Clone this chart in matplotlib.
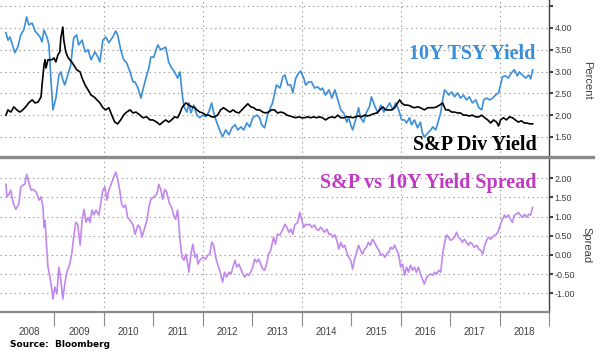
import matplotlib.pyplot as plt
from matplotlib.lines import Line2D

# 10Y treasury yield (decimal year, percent)
tsy_t = [2008.02, 2008.06, 2008.10, 2008.14, 2008.20, 2008.26, 2008.32, 2008.38, 2008.44, 2008.48,
         2008.55, 2008.61, 2008.71, 2008.75, 2008.79, 2008.85, 2008.89, 2008.93, 2008.97, 2009.03,
         2009.09, 2009.13, 2009.17, 2009.21, 2009.27, 2009.33, 2009.39, 2009.45, 2009.49, 2009.56,
         2009.62, 2009.68, 2009.74, 2009.82, 2009.88, 2009.92, 2009.98, 2010.04, 2010.10, 2010.18,
         2010.24, 2010.28, 2010.34, 2010.40, 2010.46, 2010.53, 2010.59, 2010.63, 2010.69, 2010.75,
         2010.79, 2010.85, 2010.91, 2010.95, 2011.01, 2011.09, 2011.15, 2011.25, 2011.31, 2011.37,
         2011.43, 2011.49, 2011.54, 2011.58, 2011.62, 2011.68, 2011.72, 2011.76, 2011.82, 2011.88,
         2011.94, 2012.00, 2012.06, 2012.12, 2012.18, 2012.22, 2012.28, 2012.34, 2012.40, 2012.46,
         2012.53, 2012.59, 2012.65, 2012.71, 2012.77, 2012.83, 2012.89, 2012.95, 2013.01, 2013.09,
         2013.15, 2013.19, 2013.25, 2013.31, 2013.35, 2013.41, 2013.45, 2013.49, 2013.56, 2013.62,
         2013.66, 2013.72, 2013.78, 2013.82, 2013.88, 2013.94, 2013.98, 2014.04, 2014.08, 2014.14,
         2014.20, 2014.26, 2014.32, 2014.38, 2014.42, 2014.48, 2014.55, 2014.61, 2014.67, 2014.73,
         2014.79, 2014.85, 2014.91, 2014.95, 2014.99, 2015.03, 2015.09, 2015.15, 2015.19, 2015.25,
         2015.31, 2015.37, 2015.41, 2015.47, 2015.54, 2015.60, 2015.66, 2015.72, 2015.78, 2015.84,
         2015.90, 2015.96, 2016.02, 2016.08, 2016.12, 2016.18, 2016.22, 2016.28, 2016.34, 2016.40,
         2016.44, 2016.48, 2016.55, 2016.61, 2016.65, 2016.71, 2016.77, 2016.81, 2016.85, 2016.89,
         2016.93, 2016.97, 2017.03, 2017.09, 2017.15, 2017.21, 2017.27, 2017.33, 2017.39, 2017.45,
         2017.52, 2017.58, 2017.64, 2017.68, 2017.74, 2017.80, 2017.86, 2017.92, 2017.98, 2018.02,
         2018.06, 2018.12, 2018.18, 2018.24, 2018.30, 2018.36, 2018.40, 2018.46, 2018.53, 2018.59,
         2018.63, 2018.67]
tsy = [3.89, 3.72, 3.79, 3.66, 3.43, 3.56, 3.84, 3.95, 4.25, 4.07,
       4.11, 3.93, 3.79, 3.68, 3.95, 3.79, 3.61, 2.81, 2.12, 2.39,
       2.92, 2.99, 2.81, 2.69, 2.92, 3.15, 3.77, 3.84, 3.61, 3.72,
       3.45, 3.50, 3.27, 3.45, 3.33, 3.22, 3.72, 3.79, 3.66, 3.79,
       3.93, 3.84, 3.50, 3.27, 3.20, 2.99, 2.76, 2.76, 2.62, 2.39,
       2.58, 2.85, 3.08, 3.33, 3.33, 3.61, 3.50, 3.56, 3.22, 3.08,
       2.99, 2.85, 2.99, 2.51, 2.19, 2.07, 2.28, 2.05, 2.23, 2.00,
       1.94, 2.00, 1.96, 2.07, 2.28, 2.05, 1.84, 1.66, 1.50, 1.66,
       1.55, 1.71, 1.78, 1.66, 1.73, 1.66, 1.82, 1.73, 1.94, 2.00,
       1.94, 1.78, 1.71, 2.00, 2.12, 2.28, 2.48, 2.69, 2.62, 2.88,
       2.92, 2.69, 2.69, 2.51, 2.85, 2.97, 3.01, 2.85, 2.69, 2.76,
       2.76, 2.62, 2.65, 2.58, 2.62, 2.46, 2.58, 2.39, 2.58, 2.35,
       2.12, 2.05, 1.84, 1.94, 1.78, 1.66, 1.89, 2.17, 1.94, 1.84,
       2.07, 2.19, 2.42, 2.23, 2.05, 2.23, 2.07, 2.17, 2.28, 2.12,
       2.28, 2.12, 1.89, 1.89, 1.82, 1.94, 1.78, 1.89, 1.71, 1.84,
       1.59, 1.50, 1.59, 1.66, 1.73, 1.66, 1.89, 2.05, 2.35, 2.58,
       2.53, 2.46, 2.53, 2.42, 2.51, 2.39, 2.46, 2.35, 2.42, 2.28,
       2.35, 2.17, 2.12, 2.35, 2.39, 2.35, 2.39, 2.46, 2.51, 2.69,
       2.88, 2.90, 2.85, 2.97, 3.04, 2.90, 2.99, 2.92, 2.85, 2.92,
       2.83, 3.04]

# S&P 500 dividend yield
div_t = [2008.02, 2008.06, 2008.12, 2008.18, 2008.24, 2008.30, 2008.36, 2008.42, 2008.48, 2008.55,
         2008.61, 2008.67, 2008.73, 2008.75, 2008.79, 2008.81, 2008.83, 2008.87, 2008.91, 2008.95,
         2008.99, 2009.03, 2009.07, 2009.11, 2009.13, 2009.17, 2009.19, 2009.23, 2009.27, 2009.31,
         2009.35, 2009.39, 2009.45, 2009.52, 2009.56, 2009.62, 2009.68, 2009.74, 2009.80, 2009.86,
         2009.92, 2009.98, 2010.04, 2010.10, 2010.16, 2010.22, 2010.28, 2010.34, 2010.40, 2010.46,
         2010.53, 2010.59, 2010.65, 2010.73, 2010.79, 2010.87, 2010.93, 2010.99, 2011.07, 2011.13,
         2011.19, 2011.25, 2011.31, 2011.37, 2011.43, 2011.49, 2011.54, 2011.58, 2011.62, 2011.66,
         2011.72, 2011.78, 2011.84, 2011.88, 2011.94, 2012.00, 2012.06, 2012.12, 2012.18, 2012.24,
         2012.30, 2012.36, 2012.42, 2012.48, 2012.55, 2012.61, 2012.67, 2012.73, 2012.79, 2012.85,
         2012.91, 2012.97, 2013.03, 2013.09, 2013.15, 2013.21, 2013.27, 2013.33, 2013.39, 2013.45,
         2013.51, 2013.58, 2013.64, 2013.70, 2013.76, 2013.82, 2013.88, 2013.94, 2014.00, 2014.06,
         2014.12, 2014.18, 2014.24, 2014.30, 2014.36, 2014.42, 2014.48, 2014.55, 2014.61, 2014.67,
         2014.73, 2014.79, 2014.85, 2014.91, 2014.97, 2015.03, 2015.09, 2015.15, 2015.21, 2015.27,
         2015.33, 2015.39, 2015.45, 2015.52, 2015.58, 2015.64, 2015.70, 2015.76, 2015.82, 2015.88,
         2015.94, 2015.98, 2016.02, 2016.08, 2016.14, 2016.20, 2016.22, 2016.28, 2016.34, 2016.40,
         2016.48, 2016.55, 2016.61, 2016.67, 2016.73, 2016.79, 2016.85, 2016.91, 2016.97, 2017.03,
         2017.09, 2017.15, 2017.21, 2017.27, 2017.33, 2017.39, 2017.45, 2017.52, 2017.58, 2017.64,
         2017.70, 2017.76, 2017.82, 2017.88, 2017.94, 2017.98, 2018.02, 2018.08, 2018.14, 2018.20,
         2018.26, 2018.32, 2018.38, 2018.44, 2018.50, 2018.55, 2018.61, 2018.67]
div = [2.00, 2.12, 2.07, 2.19, 2.12, 2.07, 2.12, 2.19, 2.28, 2.35,
       2.28, 2.30, 2.42, 2.69, 3.15, 3.27, 3.08, 3.27, 3.27, 3.27,
       3.31, 3.22, 3.38, 3.45, 3.77, 4.02, 3.72, 3.45, 3.33, 3.27,
       3.22, 3.15, 3.04, 2.99, 2.85, 2.69, 2.58, 2.46, 2.42, 2.35,
       2.28, 2.17, 2.12, 2.17, 2.00, 1.84, 1.80, 1.89, 2.00, 2.07,
       2.12, 2.05, 2.07, 2.00, 1.94, 1.96, 1.89, 1.89, 1.84, 1.78,
       1.84, 1.89, 1.84, 1.89, 1.96, 1.94, 2.05, 2.17, 2.23, 2.28,
       2.23, 2.19, 2.17, 2.12, 2.07, 2.05, 2.00, 2.00, 1.96, 1.96,
       2.00, 2.12, 2.17, 2.12, 2.07, 2.12, 2.07, 2.05, 2.12, 2.19,
       2.26, 2.19, 2.17, 2.12, 2.12, 2.07, 2.05, 2.07, 2.12, 2.12,
       2.05, 2.07, 2.05, 2.00, 1.98, 1.96, 1.94, 1.96, 1.94, 1.94,
       1.96, 1.94, 1.96, 1.94, 1.96, 1.94, 1.89, 1.94, 1.96, 1.94,
       2.00, 1.94, 1.94, 1.96, 1.96, 1.94, 1.96, 1.98, 1.96, 2.00,
       1.98, 2.00, 2.03, 2.05, 2.12, 2.19, 2.12, 2.12, 2.12, 2.17,
       2.28, 2.35, 2.28, 2.23, 2.23, 2.21, 2.19, 2.17, 2.19, 2.17,
       2.12, 2.17, 2.17, 2.17, 2.19, 2.23, 2.28, 2.12, 2.12, 2.07,
       2.07, 2.05, 2.05, 2.00, 2.00, 1.98, 2.00, 1.96, 1.96, 2.00,
       1.94, 1.89, 1.82, 1.89, 1.84, 1.75, 1.89, 1.94, 1.89, 1.96,
       1.94, 1.89, 1.84, 1.87, 1.82, 1.82, 1.80, 1.80]

# S&P dividend yield minus 10Y yield
spr_t = [2008.02, 2008.04, 2008.08, 2008.12, 2008.14, 2008.18, 2008.22, 2008.28, 2008.32, 2008.36,
         2008.40, 2008.44, 2008.48, 2008.53, 2008.57, 2008.63, 2008.69, 2008.73, 2008.77, 2008.79,
         2008.81, 2008.83, 2008.87, 2008.91, 2008.95, 2008.97, 2009.01, 2009.05, 2009.09, 2009.13,
         2009.17, 2009.21, 2009.25, 2009.31, 2009.35, 2009.39, 2009.43, 2009.47, 2009.52, 2009.56,
         2009.60, 2009.64, 2009.68, 2009.72, 2009.76, 2009.80, 2009.84, 2009.90, 2009.94, 2009.98,
         2010.02, 2010.06, 2010.10, 2010.14, 2010.20, 2010.24, 2010.28, 2010.32, 2010.36, 2010.40,
         2010.44, 2010.48, 2010.53, 2010.59, 2010.63, 2010.69, 2010.73, 2010.77, 2010.83, 2010.87,
         2010.91, 2010.95, 2011.01, 2011.07, 2011.11, 2011.15, 2011.19, 2011.23, 2011.27, 2011.33,
         2011.37, 2011.41, 2011.45, 2011.49, 2011.51, 2011.54, 2011.58, 2011.62, 2011.66, 2011.70,
         2011.72, 2011.76, 2011.80, 2011.84, 2011.88, 2011.90, 2011.94, 2012.00, 2012.06, 2012.10,
         2012.14, 2012.18, 2012.22, 2012.26, 2012.30, 2012.34, 2012.40, 2012.44, 2012.48, 2012.53,
         2012.57, 2012.61, 2012.65, 2012.69, 2012.73, 2012.77, 2012.81, 2012.85, 2012.89, 2012.93,
         2012.97, 2013.01, 2013.05, 2013.09, 2013.13, 2013.17, 2013.21, 2013.25, 2013.29, 2013.33,
         2013.37, 2013.43, 2013.47, 2013.51, 2013.56, 2013.62, 2013.66, 2013.70, 2013.74, 2013.78,
         2013.82, 2013.86, 2013.92, 2013.96, 2014.00, 2014.04, 2014.08, 2014.12, 2014.16, 2014.20,
         2014.26, 2014.30, 2014.34, 2014.38, 2014.42, 2014.46, 2014.51, 2014.55, 2014.59, 2014.63,
         2014.67, 2014.71, 2014.75, 2014.79, 2014.83, 2014.87, 2014.91, 2014.95, 2014.99, 2015.03,
         2015.07, 2015.11, 2015.15, 2015.19, 2015.23, 2015.27, 2015.31, 2015.35, 2015.39, 2015.43,
         2015.47, 2015.52, 2015.56, 2015.60, 2015.64, 2015.68, 2015.72, 2015.76, 2015.80, 2015.84,
         2015.88, 2015.92, 2015.96, 2016.00, 2016.04, 2016.08, 2016.12, 2016.16, 2016.20, 2016.24,
         2016.28, 2016.32, 2016.36, 2016.40, 2016.44, 2016.48, 2016.53, 2016.57, 2016.61, 2016.65,
         2016.69, 2016.73, 2016.77, 2016.81, 2016.85, 2016.89, 2016.93, 2016.97, 2017.01, 2017.05,
         2017.09, 2017.13, 2017.17, 2017.21, 2017.25, 2017.29, 2017.33, 2017.37, 2017.41, 2017.45,
         2017.49, 2017.54, 2017.58, 2017.62, 2017.66, 2017.70, 2017.74, 2017.78, 2017.82, 2017.86,
         2017.90, 2017.94, 2017.98, 2018.02, 2018.06, 2018.10, 2018.14, 2018.18, 2018.22, 2018.26,
         2018.30, 2018.34, 2018.38, 2018.42, 2018.46, 2018.51, 2018.55, 2018.59, 2018.63, 2018.67]
spr = [1.84, 1.51, 1.58, 1.69, 1.51, 1.30, 1.19, 1.32, 1.77, 1.82,
       1.84, 2.10, 1.90, 1.69, 1.71, 1.64, 1.43, 1.51, 1.24, 0.72,
       0.90, 0.46, -0.32, -0.58, -0.92, -1.15, -0.84, -1.02, -0.32, -0.66,
       -1.15, -0.76, -0.45, -0.24, 0.02, 0.46, 0.85, 0.80, 0.25, 0.90,
       1.19, 0.85, 0.98, 0.85, 1.17, 1.04, 1.17, 1.04, 1.38, 1.69,
       1.77, 1.43, 1.69, 1.82, 2.03, 2.16, 1.97, 1.69, 1.32, 1.24,
       1.30, 0.98, 0.90, 0.78, 0.54, 0.78, 0.72, 0.46, 0.72, 0.90,
       1.24, 1.45, 1.51, 1.58, 1.84, 1.71, 1.45, 1.71, 1.64, 1.32,
       1.24, 1.04, 0.93, 1.17, 0.90, 0.38, -0.06, -0.14, 0.02, -0.27,
       -0.45, 0.02, 0.28, -0.06, 0.02, -0.24, -0.14, -0.06, -0.11, -0.01,
       0.02, 0.33, 0.25, -0.06, -0.24, -0.40, -0.71, -0.45, -0.58, -0.45,
       -0.50, -0.32, -0.14, -0.32, -0.24, -0.37, -0.50, -0.58, -0.50, -0.53,
       -0.45, -0.32, -0.11, -0.19, -0.11, -0.24, -0.37, -0.40, -0.24, 0.02,
       0.10, 0.46, 0.28, 0.54, 0.52, 0.67, 0.80, 0.72, 0.59, 0.67,
       0.54, 0.78, 0.85, 1.11, 0.93, 0.72, 0.80, 0.78, 0.80, 0.72,
       0.78, 0.67, 0.64, 0.72, 0.67, 0.59, 0.67, 0.54, 0.54, 0.46,
       0.52, 0.38, 0.15, 0.33, 0.20, 0.25, 0.07, -0.06, -0.14, -0.37,
       -0.11, 0.07, 0.25, 0.12, 0.02, 0.15, 0.20, 0.33, 0.25, 0.41,
       0.33, 0.20, 0.12, -0.01, 0.02, -0.06, 0.02, 0.07, 0.20, 0.15,
       0.25, 0.12, 0.02, -0.32, -0.24, -0.53, -0.32, -0.45, -0.27, -0.40,
       -0.32, -0.45, -0.32, -0.50, -0.63, -0.76, -0.58, -0.53, -0.50, -0.53,
       -0.45, -0.50, -0.40, -0.45, 0.02, 0.33, 0.52, 0.46, 0.38, 0.41,
       0.46, 0.59, 0.46, 0.41, 0.33, 0.41, 0.33, 0.25, 0.33, 0.28,
       0.20, 0.25, 0.15, 0.12, 0.02, 0.25, 0.38, 0.46, 0.41, 0.46,
       0.52, 0.54, 0.64, 0.80, 0.93, 1.04, 0.98, 1.04, 0.93, 0.85,
       1.04, 1.06, 1.11, 1.04, 0.98, 1.06, 0.98, 1.06, 1.04, 1.24]

years = list(range(2008, 2019))
grid_years = [2010, 2012, 2014, 2016, 2018]
top_ticks = [1.5, 2.0, 2.5, 3.0, 3.5, 4.0, 4.5]
bot_ticks = [-1.0, -0.5, 0.0, 0.5, 1.0, 1.5, 2.0]

BLUE = '#3b8ed8'
PURPLE = '#c287ee'
MAGENTA = '#c13ac2'
AXC = '#404040'
GRIDC = '#9a9a9a'

plt.rcParams['font.family'] = ['Liberation Sans', 'DejaVu Sans']

fig = plt.figure(figsize=(6, 3.52), dpi=100)
ax1 = fig.add_axes([0, 0.554, 0.915, 0.446])
ax2 = fig.add_axes([0, 0.1136, 0.915, 0.440])

ax1.plot(tsy_t, tsy, color=BLUE, lw=1.2)
ax1.plot(div_t, div, color='black', lw=1.2)
ax2.plot(spr_t, spr, color=PURPLE, lw=1.2)

for ax in (ax1, ax2):
    ax.set_xlim(2007.9, 2019.0)
    for s in ('left', 'top', 'bottom'):
        ax.spines[s].set_visible(False)
    ax.spines['right'].set_color(AXC)
    ax.spines['right'].set_linewidth(1)
    ax.yaxis.tick_right()
    ax.tick_params(axis='y', direction='out', length=3, width=1.5, color=AXC,
                   labelsize=6.5, labelcolor=AXC, pad=1)
    ax.grid(True, axis='y', ls=(0, (1.2, 3)), color=GRIDC, lw=0.8)
    for gy in grid_years:
        ax.axvline(gy, ls=(0, (1.2, 3)), color=GRIDC, lw=0.8, zorder=0)
    ax.set_axisbelow(True)

ax1.set_ylim(1.04, 4.64)
ax1.set_yticks(top_ticks)
ax1.set_yticklabels([f'{v:.2f}' if v < 4.4 else '' for v in top_ticks])
ax1.set_xticks([])

ax2.set_ylim(-1.49, 2.55)
ax2.set_yticks(bot_ticks)
ax2.set_yticklabels([f'{v:.2f}' for v in bot_ticks])
ax2.spines['bottom'].set_visible(True)
ax2.spines['bottom'].set_color('#8a8a8a')
ax2.spines['bottom'].set_linewidth(1.6)
ax2.set_xticks(range(2009, 2020))
ax2.set_xticklabels([])
ax2.set_xticks([y + 0.5 for y in years], minor=True)
ax2.set_xticklabels([str(y) for y in years], minor=True)
ax2.tick_params(axis='x', which='major', direction='out', length=10, width=0.8, color='#8a8a8a')
ax2.tick_params(axis='x', which='minor', length=0, pad=10.5, labelsize=7, labelcolor=AXC)

# panel separator
fig.add_artist(Line2D([0, 0.988], [0.554, 0.554], color='#8a8a8a', lw=2.4))

serif = ['Liberation Serif', 'DejaVu Serif']
fig.text(0.893, 0.832, '10Y TSY Yield', ha='right', va='baseline', color=BLUE,
         family=serif, weight='bold', size=14.5)
fig.text(0.895, 0.574, 'S&P Div Yield', ha='right', va='baseline', color='black',
         family=serif, weight='bold', size=14.5)
fig.text(0.895, 0.466, 'S&P vs 10Y Yield Spread', ha='right', va='baseline', color=MAGENTA,
         family=serif, weight='bold', size=14.5)

fig.text(0.978, 0.773, 'Percent', rotation=270, ha='center', va='center', size=8, color=AXC)
fig.text(0.978, 0.304, 'Spread', rotation=270, ha='center', va='center', size=8, color=AXC)
fig.text(0.017, 0.02, 'Source:  Bloomberg', ha='left', va='center', size=6.5,
         weight='bold', family=['DejaVu Sans'])

fig.savefig('out.png', dpi=100)
